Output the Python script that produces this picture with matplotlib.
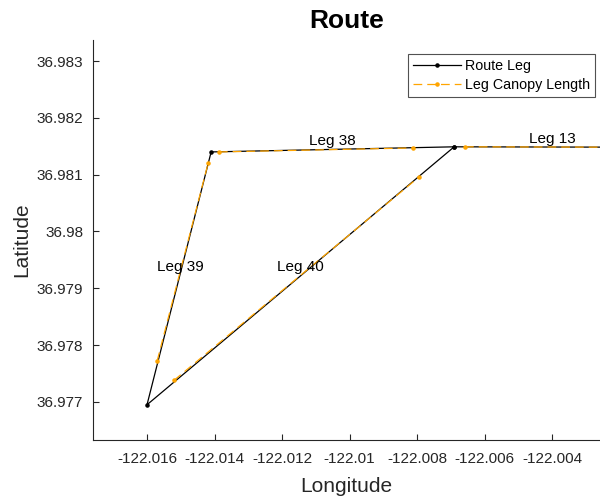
import numpy as np
import matplotlib
matplotlib.use("Agg")
import matplotlib.pyplot as plt

plt.rcParams['font.family'] = ['Liberation Sans', 'DejaVu Sans']

# Route vertices (lon, lat), traversed in order
route_lon = [-121.9990, -122.00690, -122.01410, -122.01600, -122.00690]
route_lat = [36.98148, 36.981490, 36.981400, 36.976950, 36.981490]

# Canopy-length sub-segments on each leg (start/end pairs)
canopy_lon = [[-122.01570, -122.01419],   # Leg 39
              [-122.01387, -122.00812],   # Leg 38
              [-122.01520, -122.00794],   # Leg 40
              [-122.00658, -121.99950]]   # Leg 13
canopy_lat = [[36.97772, 36.98120],
              [36.98140, 36.98147],
              [36.97738, 36.98096],
              [36.98149, 36.98148]]

leg_names = ["Leg 39", "Leg 38", "Leg 40", "Leg 13"]
leg_label_lon = [-122.01502, -122.01052, -122.01147, -122.00400]
leg_label_lat = [36.97937, 36.98159, 36.97937, 36.98163]

xticks = [-122.016, -122.014, -122.012, -122.010, -122.008, -122.006, -122.004]
xtick_labels = ["-122.016", "-122.014", "-122.012", "-122.01", "-122.008", "-122.006", "-122.004"]
yticks = [36.977, 36.978, 36.979, 36.980, 36.981, 36.982, 36.983]
ytick_labels = ["36.977", "36.978", "36.979", "36.98", "36.981", "36.982", "36.983"]

fig = plt.figure(figsize=(6.0, 4.99), dpi=100)
ax = fig.add_axes([0.155, 1 - 440 / 499, 0.845, 400 / 499])

ax.plot(route_lon, route_lat, color='black', lw=0.9, marker='.', ms=4.5,
        label='Route Leg', zorder=2)

c_lon, c_lat = [], []
for lo, la in zip(canopy_lon, canopy_lat):
    c_lon += lo + [np.nan]
    c_lat += la + [np.nan]
ax.plot(c_lon, c_lat, color='#FFA500', lw=0.9, ls=(0, (7, 4)), marker='.', ms=4.5,
        label='Leg Canopy Length', zorder=3)

for name, lo, la in zip(leg_names, leg_label_lon, leg_label_lat):
    ax.text(lo, la, name, fontsize=11, ha='center', va='center', color='black', zorder=4)

ax.set_xlim(-122.0176, -122.00258)
ax.set_ylim(36.97633, 36.98337)
ax.set_xticks(xticks)
ax.set_xticklabels(xtick_labels)
ax.set_yticks(yticks)
ax.set_yticklabels(ytick_labels)

for s in ['top', 'right']:
    ax.spines[s].set_visible(False)
for s in ['left', 'bottom']:
    ax.spines[s].set_color('#262626')
    ax.spines[s].set_linewidth(0.8)
ax.tick_params(direction='in', length=4, width=0.8, colors='#262626',
               labelsize=11)
ax.tick_params(axis='x', pad=8.5)
ax.tick_params(axis='y', pad=7)

ax.set_title('Route', fontsize=19, fontweight='bold', pad=9)
ax.set_xlabel('Longitude', fontsize=15, color='#262626', labelpad=8)
ax.set_ylabel('Latitude', fontsize=15, color='#262626', labelpad=4)

leg = ax.legend(loc='upper right', bbox_to_anchor=(0.990, 0.965), fontsize=10.3,
                frameon=True, fancybox=False, edgecolor='#262626',
                handlelength=3.3, borderpad=0.35, labelspacing=0.35,
                handletextpad=0.3, borderaxespad=0.0)
leg.get_frame().set_linewidth(0.8)

fig.savefig('out.png', dpi=100)
